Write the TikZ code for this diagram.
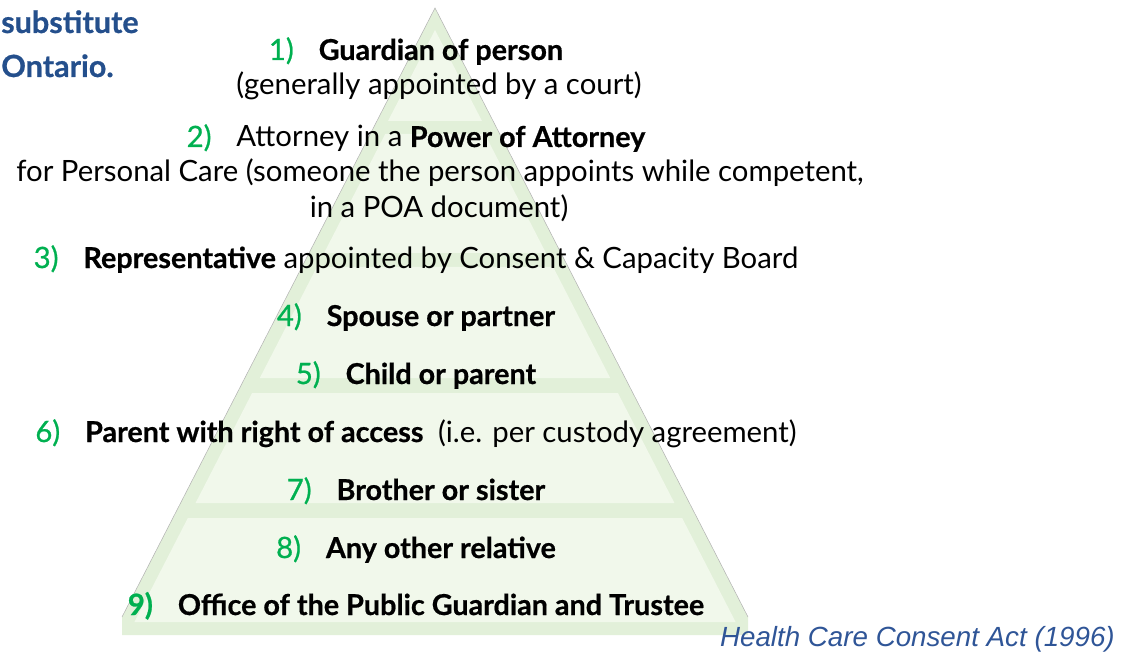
\documentclass[tikz,border=0pt]{standalone}
\usepackage{fontspec}
\setmainfont{Lato}[BoldFeatures={Scale=0.98,FakeBold=0.6}]
\newfontfamily\numfont{Lato}[FakeBold=0.8]
\newfontfamily\notefont{Liberation Sans}
\definecolor{numgreen}{HTML}{00B050}
\definecolor{titleblue}{HTML}{244F8C}
\definecolor{noteblue}{HTML}{2F5597}
\definecolor{layerdark}{HTML}{E2F0D9}
\definecolor{layerlight}{HTML}{F1F8EB}
\definecolor{edgegray}{HTML}{B4B4B4}
\newcommand\itemno[1]{{\numfont\color{numgreen}#1}\hspace{0.85em}}

\begin{document}
\begin{tikzpicture}[x=0.75pt,y=-0.75pt,
    row/.style={anchor=base,inner sep=0pt,font=\fontsize{22}{26}\selectfont},
    title/.style={anchor=base west,inner sep=0pt,text=titleblue,
        font=\fontsize{23.4}{27}\selectfont\bfseries}]
    \useasboundingbox (0,0) rectangle (1131,652);

    % pyramid body and base
    \fill[layerdark] (122,617) -- (435,8) -- (748,617) -- (748,635) -- (122,635) -- cycle;
    \draw[edgegray,line width=0.4pt] (122,617) -- (435,8) -- (748,617);
    % lighter layers
    \fill[layerlight] (435,30) -- (388,121) -- (482,121) -- cycle;
    \foreach \ytop/\ybot in {134/253,267/378,393/503,518/622}{
        \pgfmathsetmacro\xa{435-0.514*(\ytop-8)+15}
        \pgfmathsetmacro\xb{435+0.514*(\ytop-8)-15}
        \pgfmathsetmacro\xc{435+0.514*(\ybot-8)-15}
        \pgfmathsetmacro\xd{435-0.514*(\ybot-8)+15}
        \fill[layerlight] (\xa,\ytop) -- (\xb,\ytop) -- (\xc,\ybot) -- (\xd,\ybot) -- cycle;
    }

    % heading, cut at the left
    \node[title] (subst) at (1,33) {substitute};
    \node[title] (ontario) at (1,77) {Ontario.};

    % decision makers, in order
    \node[row] (guardian) at (416,60) {\itemno{1)}\textbf{Guardian of person}};
    \node[row] (guardiannote) at (439,95) {(generally appointed by a court)};
    \node[row] (attorney) at (416,147) {\itemno{2)}Attorney in a \textbf{Power of Attorney}};
    \node[row] (attorneynote) at (440,182) {for Personal Care (someone the person appoints while competent,};
    \node[row] (attorneydoc) at (439,218) {in a POA document)};
    \node[row] (representative) at (416,268) {\itemno{3)}\textbf{Representative} appointed by Consent \& Capacity Board};
    \node[row] (spouse) at (416,326) {\itemno{4)}\textbf{Spouse or partner}};
    \node[row] (child) at (416,384) {\itemno{5)}\textbf{Child or parent}};
    \node[row] (access) at (416,442) {\itemno{6)}\textbf{Parent with right of access}\hspace{0.5em}(i.e. per custody agreement)};
    \node[row] (sibling) at (416,500) {\itemno{7)}\textbf{Brother or sister}};
    \node[row] (relative) at (416,558) {\itemno{8)}\textbf{Any other relative}};
    \node[row] (opgt) at (416,615) {\itemno{\textbf{9)}}\textbf{Office of the Public Guardian and Trustee}};

    % source of the list
    \node[anchor=base east,inner sep=0pt,text=noteblue,font=\notefont\itshape\fontsize{20.8}{24}\selectfont]
        (actref) at (1115,646) {Health Care Consent Act (1996)};
\end{tikzpicture}
\end{document}
